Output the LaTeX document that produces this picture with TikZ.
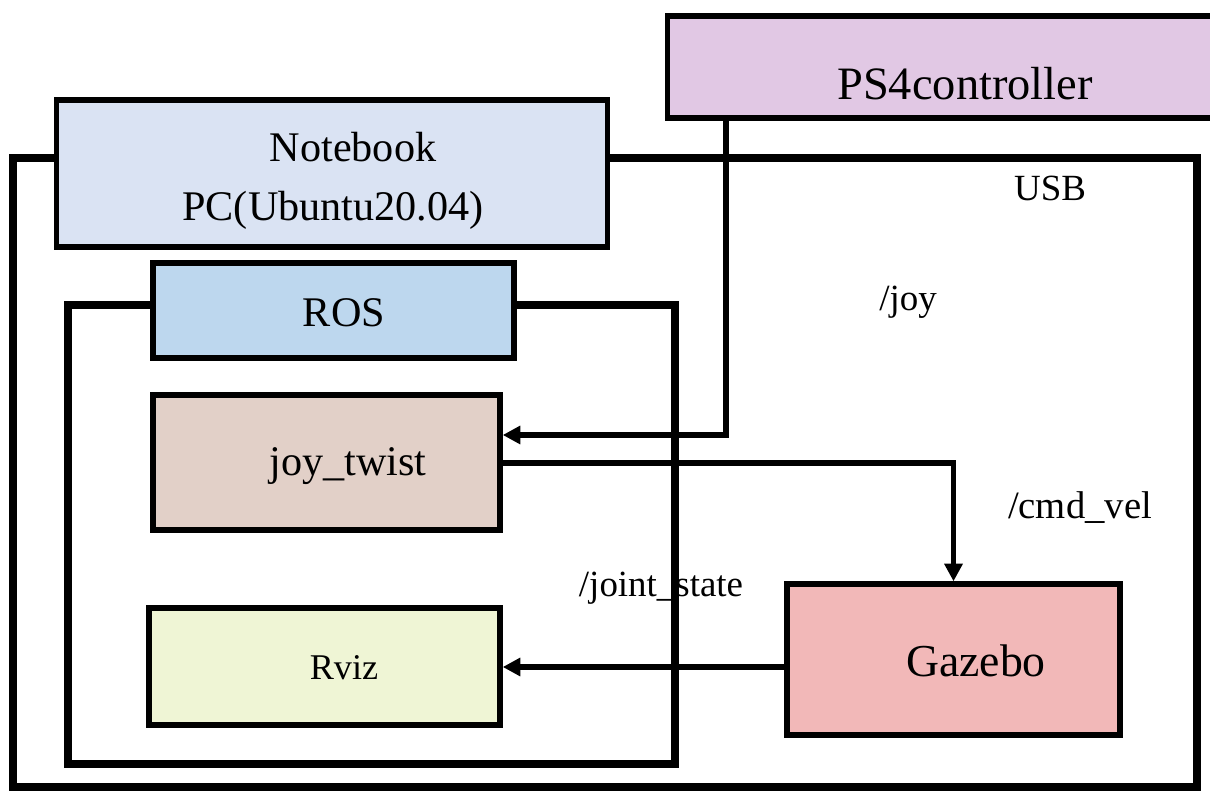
\documentclass[tikz,border=0pt]{standalone}
\usepackage{fontspec}
\setmainfont{Liberation Serif}
\usetikzlibrary{arrows.meta}
\definecolor{cNote}{RGB}{218,227,243}
\definecolor{cPS}{RGB}{225,200,228}
\definecolor{cROS}{RGB}{189,215,238}
\definecolor{cJoy}{RGB}{226,208,200}
\definecolor{cRviz}{RGB}{239,245,213}
\definecolor{cGaz}{RGB}{242,184,184}
\tikzset{
  frame/.style={draw=black, line width=2.2pt},
  box/.style={draw=black, line width=1.5pt, rectangle, inner sep=0pt},
  conn/.style={draw=black, line width=1.6pt, -{Triangle[length=5pt,width=5pt]}},
  txt/.style={inner sep=0pt, font=\fontsize{12}{14}\selectfont},
  small/.style={inner sep=0pt, font=\fontsize{10.5}{12}\selectfont}
}
\begin{document}
\begin{tikzpicture}[x=0.01cm, y=-0.01cm]
\useasboundingbox (0,0) rectangle (1210,792);
% frames
\draw[frame] (13,158) rectangle (1197,787);
\draw[frame] (68,305) rectangle (675,764);
% boxes
\node[box, fill=cNote, minimum width=5.5cm, minimum height=1.47cm] (note) at (332,173.5) {};
\node[box, fill=cPS, minimum width=5.52cm, minimum height=1.02cm] (ps4) at (944,67) {};
\node[box, fill=cROS, minimum width=3.61cm, minimum height=0.95cm] (ros) at (333.5,310.5) {};
\node[box, fill=cJoy, minimum width=3.47cm, minimum height=1.35cm] (joy) at (326.5,462.5) {};
\node[box, fill=cRviz, minimum width=3.51cm, minimum height=1.17cm] (rviz) at (324.5,666.5) {};
\node[box, fill=cGaz, minimum width=3.33cm, minimum height=1.51cm] (gaz) at (953.5,659.5) {};
% texts
\node[txt] (tnote1) at (353,147) {Notebook};
\node[txt] (tnote2) at (333,210) {PC(Ubuntu20.04)};
\node[txt, font=\fontsize{13.2}{15}\selectfont] (tps) at (965,84) {PS4controller};
\node[txt] (tros) at (344,313) {ROS};
\node[txt] (tjoy) at (348,466) {joy\_twist};
\node[txt, font=\fontsize{10.3}{12}\selectfont] (trviz) at (344,668) {Rviz};
\node[txt, font=\fontsize{13}{15}\selectfont] (tgaz) at (976,661) {Gazebo};
\node[small] (lusb) at (1050,188) {USB};
\node[small] (ljoy) at (908,302) {/joy};
\node[small, font=\fontsize{11}{13}\selectfont] (lcmd) at (1080,508) {/cmd\_vel};
\node[small] (ljs) at (661,588) {/joint\_state};
% connectors
\coordinate (jx) at (726,0);
\coordinate (jy) at (0,435);
\coordinate (cy) at (0,463);
\coordinate (gy) at (0,667);
\draw[conn] (ps4.south -| jx) |- (joy.east |- jy);
\draw[conn] (joy.east |- cy) -| (gaz.north);
\draw[conn] (gaz.west |- gy) -- (rviz.east |- gy);
\end{tikzpicture}
\end{document}
